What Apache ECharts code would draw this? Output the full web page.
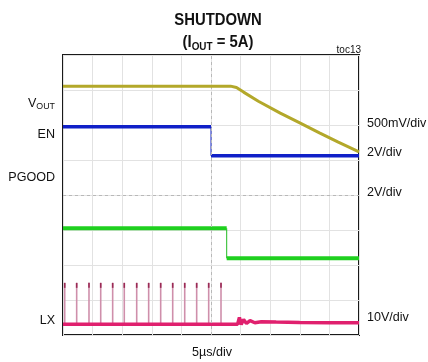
<!DOCTYPE html>
<html>
<head>
<meta charset="utf-8">
<script src="https://cdn.jsdelivr.net/npm/echarts@6/dist/echarts.min.js"></script>
<style>
html,body{margin:0;padding:0;background:#fff;}
#c{width:428px;height:362px;}
</style>
</head>
<body>
<div id="c"></div>
<script>
// time in µs (5 µs/div, 10 div), vertical in divisions (8 div)
const xTicks = [0, 5, 10, 15, 20, 25, 30, 35, 40, 45, 50];
const yTicks = [0, 1, 2, 3, 4, 5, 6, 7, 8];

const voutT = [0, 28.3, 29.3, 30.5, 33, 36.7, 40, 43.4, 46.5, 50];
const voutV = [7.11, 7.11, 7.07, 6.94, 6.68, 6.34, 6.06, 5.77, 5.51, 5.23];

const enT = [0, 25.0, 50];
const enV = [5.95, 5.12];

const pgT = [0, 27.65, 50];
const pgV = [3.05, 2.19];

const lxT = [0, 29.5, 29.8, 30.1, 30.5, 31.0, 31.6, 32.4, 33.5, 36, 40, 45, 50];
const lxV = [0.31, 0.31, 0.50, 0.30, 0.44, 0.33, 0.41, 0.35, 0.38, 0.37, 0.36, 0.35, 0.35];
const spikeT = [0.29, 2.31, 4.39, 6.37, 8.39, 10.35, 12.45, 14.47, 16.5, 18.53, 20.56, 22.58, 24.61, 26.69];
const spikeTop = 1.49;
const spikeBase = 0.31;

const chart = echarts.init(document.getElementById('c'), null, {renderer: 'canvas'});

const pair = (ts, vs) => ts.map((t, i) => [t, vs[i]]);
const steps = (ts, vs) => ({
  hi: [[ts[0], vs[0]], [ts[1], vs[0]]],
  lo: [[ts[1], vs[1]], [ts[2], vs[1]]],
  edge: [[ts[1], vs[0]], [ts[1], vs[1]]]
});
const en = steps(enT, enV);
const pg = steps(pgT, pgV);

function lineSeries(data, color, width, z) {
  return {type: 'line', data: data, showSymbol: false, symbol: 'none', silent: true,
    lineStyle: {color: color, width: width}, z: z || 3, animation: false};
}

const FONT = '"Liberation Sans", Arial, sans-serif';
const txt = (x, y, text, style, sx) => ({
  type: 'text', x: x, y: y, scaleX: sx || 0.93, originX: 0, originY: 0,
  style: Object.assign({text: text, font: '13.5px ' + FONT, fill: '#111', textVerticalAlign: 'middle'}, style || {})
});

const option = {
  animation: false,
  grid: {left: 63, top: 55, width: 296, height: 280, show: true, borderColor: '#1a1a1a', borderWidth: 2, backgroundColor: 'transparent'},
  xAxis: {type: 'value', min: xTicks[0], max: xTicks[xTicks.length - 1], interval: 5,
    axisLine: {show: false}, axisTick: {show: false}, axisLabel: {show: false},
    splitLine: {show: true, lineStyle: {color: '#e2e2e2', width: 1}}},
  yAxis: {type: 'value', min: yTicks[0], max: yTicks[yTicks.length - 1], interval: 1,
    axisLine: {show: false}, axisTick: {show: false}, axisLabel: {show: false},
    splitLine: {show: true, lineStyle: {color: '#e2e2e2', width: 1}}},
  series: [
    {type: 'line', data: [], markLine: {silent: true, symbol: 'none', label: {show: false},
      lineStyle: {color: '#b8b8b8', type: [3, 3], width: 1},
      data: [{xAxis: 25}, {yAxis: 4}]}},
    {type: 'custom', z: 2, silent: true, data: spikeT.map(t => [t, spikeTop]), encode: {x: 0, y: 1},
      renderItem: function (params, api) {
        const t = api.value(0);
        const p0 = api.coord([t, spikeBase]);
        const p1 = api.coord([t, api.value(1)]);
        return {type: 'group', children: [
          {type: 'line', shape: {x1: p0[0], y1: p0[1], x2: p1[0], y2: p1[1]}, style: {stroke: '#cf8fab', lineWidth: 1.6}},
          {type: 'line', shape: {x1: p1[0], y1: p1[1], x2: p1[0], y2: p1[1] + 5}, style: {stroke: '#9a2a55', lineWidth: 1.6}}
        ]};
      }},
    lineSeries(pair(lxT, lxV), '#e0206e', 3.5, 3),
    lineSeries(pg.edge, '#22bb22', 1, 3),
    lineSeries(pg.hi, '#1fd01f', 4, 4),
    lineSeries(pg.lo, '#1fd01f', 4, 4),
    lineSeries(en.edge, '#1020c0', 1, 3),
    lineSeries(en.hi, '#1020c8', 3.5, 4),
    lineSeries(en.lo, '#1020c8', 3.5, 4),
    lineSeries(pair(voutT, voutV), '#b3a82a', 3, 5)
  ],
  graphic: [
    txt(218, 20, 'SHUTDOWN', {font: 'bold 16.5px ' + FONT, textAlign: 'center'}, 0.9),
    txt(218, 42, '{a|(I}{s|OUT}{a| = 5A)}', {textAlign: 'center',
        rich: {a: {font: 'bold 16.5px ' + FONT, fill: '#111'}, s: {font: 'bold 11px ' + FONT, fill: '#111', padding: [9, 0, 0, 0]}}}, 0.9),
    txt(361, 50, 'toc13', {font: '10px ' + FONT, textAlign: 'right'}, 1),
    txt(55, 103, '{a|V}{s|OUT}', {textAlign: 'right', rich: {a: {font: '13.5px ' + FONT, fill: '#111'}, s: {font: '9.5px ' + FONT, fill: '#111', padding: [7, 0, 0, 0]}}}),
    txt(55, 134, 'EN', {textAlign: 'right'}),
    txt(55, 177, 'PGOOD', {textAlign: 'right'}),
    txt(55, 320, 'LX', {textAlign: 'right'}),
    txt(367, 123, '500mV/div'),
    txt(367, 152, '2V/div'),
    txt(367, 192, '2V/div'),
    txt(367, 317, '10V/div'),
    txt(212, 352, '5µs/div', {textAlign: 'center'})
  ]
};
chart.setOption(option);
</script>
</body>
</html>
